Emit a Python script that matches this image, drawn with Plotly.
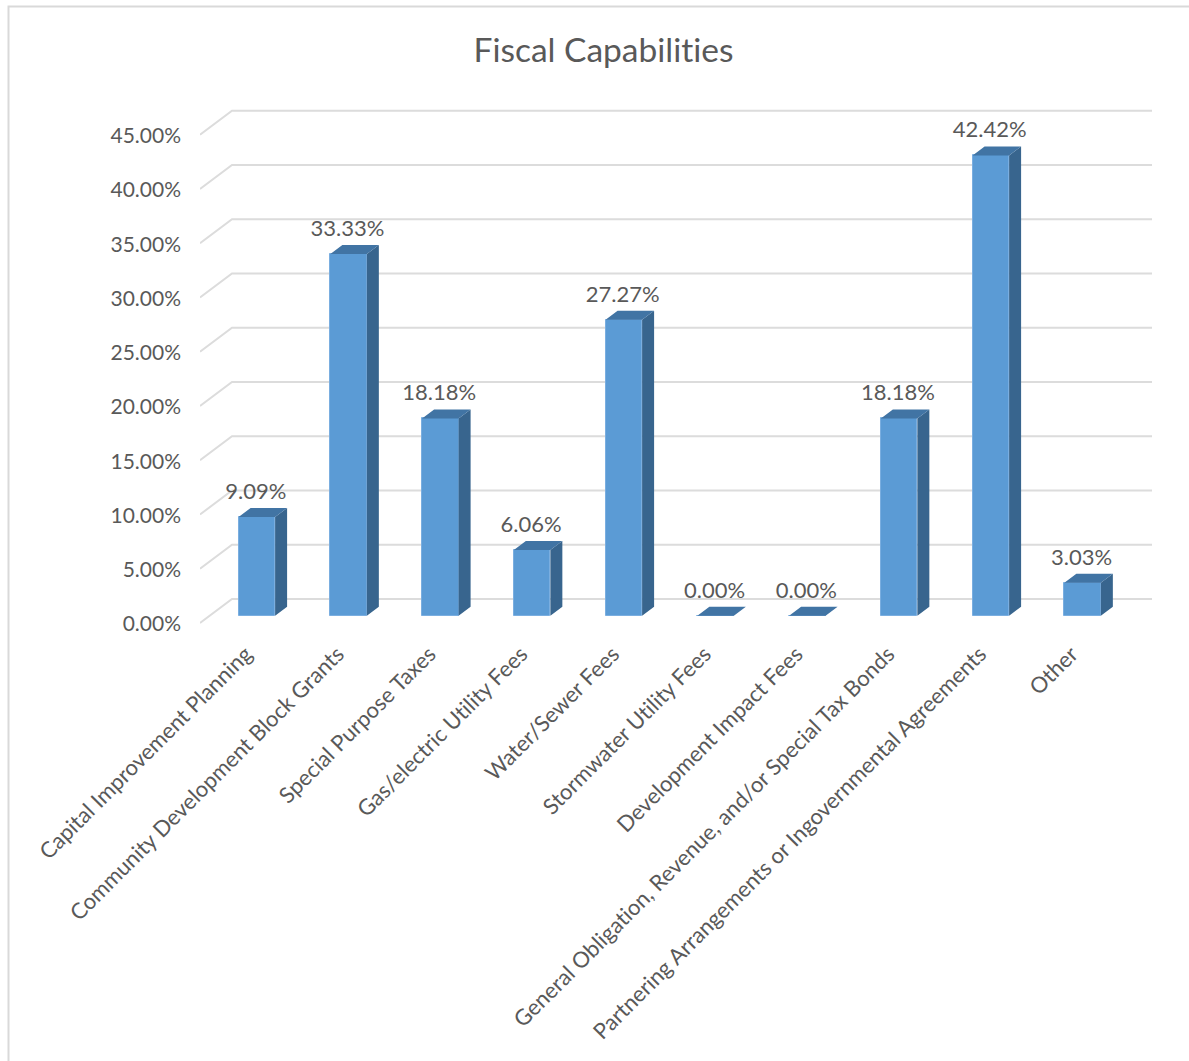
import plotly.graph_objects as go

categories = ["Capital Improvement Planning", "Community Development Block Grants",
              "Special Purpose Taxes", "Gas/electric Utility Fees", "Water/Sewer Fees",
              "Stormwater Utility Fees", "Development Impact Fees",
              "General Obligation, Revenue, and/or Special Tax Bonds",
              "Partnering Arrangements or Ingovernmental Agreements", "Other"]
values = [9.09, 33.33, 18.18, 6.06, 27.27, 0.00, 0.00, 18.18, 42.42, 3.03]
y_ticks = [0, 5, 10, 15, 20, 25, 30, 35, 40, 45]

# figure geometry (pixels)
W, H = 1189, 1061
L, R, T = 200, 1152, 105
Y0 = 623          # px of the 0% line at the front of the floor
B = 627           # px of the plot area's lower edge
PX_X = 91.75      # px per category
PX_Y = 10.85      # px per percent
X0 = 256.85       # px of first bar centre
BAR_W = 36.5 / PX_X
FLOOR = 7.3 / PX_Y
DX_BAR, DY_BAR = 12 / PX_X, 9 / PX_Y
DX_WALL, DY_WALL = 32 / PX_X, 24 / PX_Y
LABEL_GAP = 14.5 / PX_Y
TICK_SHIFT = 11 / PX_X
Y_LABEL_NUDGE = 1 / PX_Y

x_lo = (L - X0) / PX_X
x_hi = (R - X0) / PX_X
y_lo = (Y0 - B) / PX_Y
y_hi = (Y0 - T) / PX_Y
xs = list(range(len(categories)))
GRID = "#dcdcdc"
TEXT = "#595959"
FONT = "Lato"

shapes = []
for t in y_ticks:
    shapes.append(dict(type="path", xref="x", yref="y", layer="below",
                       path=f"M {x_lo} {t} L {x_lo + DX_WALL} {t + DY_WALL} L {x_hi} {t + DY_WALL}",
                       line=dict(color=GRID, width=2)))
# outer chart border (top and left only are visible in the crop)
shapes.append(dict(type="path", xref="paper", yref="paper", layer="below",
                   path=f"M {(8.5 - L) / (R - L)} {(B - H) / (B - T)} "
                        f"L {(8.5 - L) / (R - L)} {(B - 6.5) / (B - T)} "
                        f"L {(W - L) / (R - L)} {(B - 6.5) / (B - T)}",
                   line=dict(color="#d9d9d9", width=2)))

side_x, side_y, top_x, top_y = [], [], [], []
for x, v in zip(xs, values):
    r = x + BAR_W / 2
    l = x - BAR_W / 2
    b = FLOOR
    t = FLOOR + v
    if v > 0:
        side_x += [r, r + DX_BAR, r + DX_BAR, r, r, None]
        side_y += [b, b + DY_BAR, t + DY_BAR, t, b, None]
    top_x += [l, l + DX_BAR, r + DX_BAR, r, l, None]
    top_y += [t, t + DY_BAR, t + DY_BAR, t, t, None]

fig = go.Figure()
fig.add_trace(go.Bar(x=xs, y=values, base=FLOOR, width=BAR_W,
                     marker=dict(color="#5b9bd5", line=dict(color="#7aaee0", width=1)),
                     hoverinfo="skip", showlegend=False))
fig.add_trace(go.Scatter(x=side_x, y=side_y, mode="none", fill="toself", fillcolor="#38658e",
                         hoverinfo="skip", showlegend=False))
fig.add_trace(go.Scatter(x=top_x, y=top_y, mode="none", fill="toself", fillcolor="#4174a4",
                         hoverinfo="skip", showlegend=False))
fig.add_trace(go.Scatter(x=[x - 0.012 for x in xs],
                         y=[FLOOR + v + DY_BAR + LABEL_GAP for v in values],
                         mode="text", text=[f"{v:.2f}%" for v in values],
                         textposition="middle center", cliponaxis=False,
                         textfont=dict(family=FONT, size=22, color=TEXT),
                         hoverinfo="skip", showlegend=False))

fig.update_layout(
    width=W, height=H,
    margin=dict(l=L, r=W - R, t=T, b=H - B, pad=0),
    paper_bgcolor="white", plot_bgcolor="white",
    showlegend=False, shapes=shapes, bargap=0,
    title=dict(text="Fiscal Capabilities", x=603.5 / W, xanchor="center",
               y=1 - 50 / H, yanchor="middle",
               font=dict(family=FONT, size=33.5, color=TEXT)),
    xaxis=dict(range=[x_lo, x_hi], tickmode="array", tickvals=[x - TICK_SHIFT for x in xs],
               ticktext=categories,
               tickangle=-45, showgrid=False, zeroline=False, showline=False, ticks="",
               ticklabelstandoff=9, automargin=False,
               tickfont=dict(family=FONT, size=22, color=TEXT)),
    yaxis=dict(range=[y_lo, y_hi], tickmode="array", tickvals=[t - Y_LABEL_NUDGE for t in y_ticks],
               ticktext=[f"{t:.2f}%" for t in y_ticks], showgrid=False, zeroline=False,
               showline=False, ticks="", ticklabelstandoff=18, automargin=False,
               tickfont=dict(family=FONT, size=21, color=TEXT)),
)
css = ("var s=document.createElement('style');"
       "s.textContent='body{margin:0}svg text{font-variant-ligatures:none !important;"
       "font-feature-settings:\"liga\" 0,\"clig\" 0 !important}';"
       "document.head.appendChild(s);")
fig.write_html("out.html", config=dict(displayModeBar=False), post_script=css)
